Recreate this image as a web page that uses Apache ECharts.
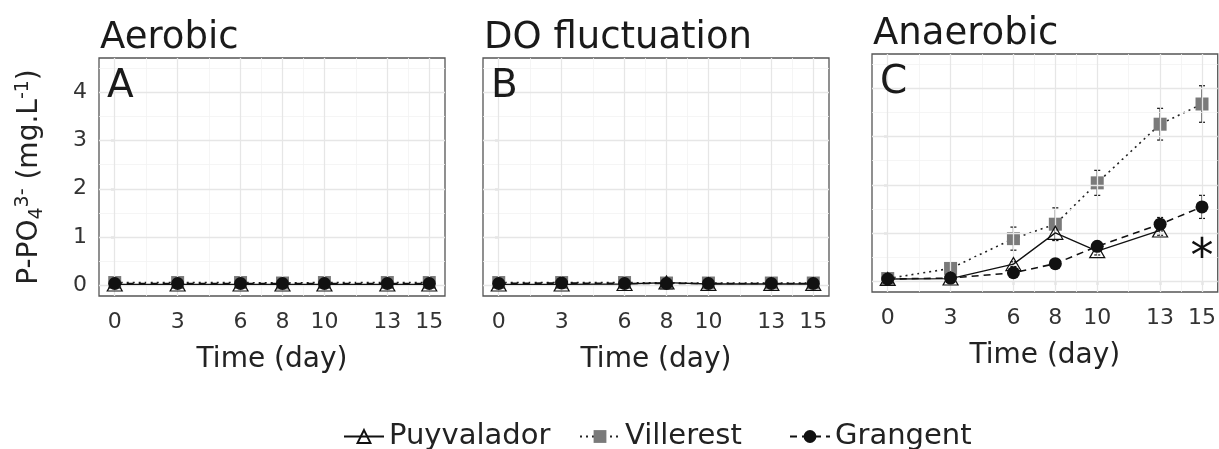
<!DOCTYPE html>
<html>
<head>
<meta charset="utf-8">
<script src="https://cdn.jsdelivr.net/npm/echarts@6/dist/echarts.min.js"></script>
<style>html,body{margin:0;padding:0;background:#fff}#c{width:1219px;height:449px}</style>
</head>
<body>
<div id="c"></div>
<script>
// ---- data ----
const days = [0, 3, 6, 8, 10, 13, 15];
const xTicks = [0, 3, 6, 8, 10, 13, 15];
const xMinor = [1.5, 4.5, 7, 9, 11.5, 14];
const yTicks = [0, 1, 2, 3, 4];
const yMinor = [0.5, 1.5, 2.5, 3.5, 4.5];
const panelTitles = ['Aerobic', 'DO fluctuation', 'Anaerobic'];
const panelLetters = ['A', 'B', 'C'];
const seriesNames = ['Puyvalador', 'Villerest', 'Grangent'];

// Aerobic
const puyA = [0.01, 0.01, 0.01, 0.01, 0.01, 0.01, 0.01];
const vilA = [0.05, 0.05, 0.05, 0.04, 0.05, 0.05, 0.05];
const graA = [0.03, 0.03, 0.03, 0.03, 0.03, 0.03, 0.03];
const puyAerr = [0.02, 0.02, 0.02, 0.02, 0.02, 0.02, 0.02];
const vilAerr = [0.03, 0.03, 0.03, 0.03, 0.03, 0.03, 0.03];
const graAerr = [0.02, 0.02, 0.02, 0.02, 0.02, 0.02, 0.02];
// DO fluctuation
const puyB = [0.01, 0.01, 0.02, 0.05, 0.02, 0.02, 0.02];
const vilB = [0.05, 0.05, 0.05, 0.04, 0.04, 0.04, 0.04];
const graB = [0.03, 0.04, 0.03, 0.03, 0.03, 0.03, 0.03];
const puyBerr = [0.02, 0.02, 0.02, 0.03, 0.02, 0.02, 0.02];
const vilBerr = [0.03, 0.03, 0.03, 0.03, 0.03, 0.03, 0.03];
const graBerr = [0.02, 0.02, 0.02, 0.02, 0.02, 0.02, 0.02];
// Anaerobic
const puyC = [0.04, 0.05, 0.35, 1.0, 0.62, 1.05, null];
const vilC = [0.05, 0.26, 0.88, 1.18, 2.04, 3.26, 3.68];
const graC = [0.04, 0.06, 0.17, 0.36, 0.72, 1.18, 1.54];
const puyCerr = [0.02, 0.02, 0.05, 0.15, 0.08, 0.1, null];
const vilCerr = [0.05, 0.06, 0.24, 0.34, 0.26, 0.33, 0.38];
const graCerr = [0.02, 0.02, 0.03, 0.04, 0.1, 0.14, 0.24];
const starDay = 15, starValue = 0.62;

const panels = [
  { puy: puyA, vil: vilA, gra: graA, puyE: puyAerr, vilE: vilAerr, graE: graAerr },
  { puy: puyB, vil: vilB, gra: graB, puyE: puyBerr, vilE: vilBerr, graE: graBerr },
  { puy: puyC, vil: vilC, gra: graC, puyE: puyCerr, vilE: vilCerr, graE: graCerr }
];

// ---- layout ----
const FONT = 'DejaVu Sans';
const gridBoxes = [
  { left: 99, top: 58, width: 346, height: 238 },
  { left: 483, top: 58, width: 346, height: 238 },
  { left: 872, top: 54, width: 346, height: 238 }
];
const legendLefts = [343, 579, 789];

const grids = [], xAxes = [], yAxes = [], series = [], titles = [];
const pairs = (vals) => days.map((d, i) => vals[i] == null ? [d, null] : [d, vals[i]]);
const errData = (vals, errs) => days.map((d, i) => vals[i] == null ? null : [d, vals[i] - errs[i], vals[i] + errs[i]]).filter(v => v);

const errRender = (params, api) => {
  const x = api.value(0);
  const lo = api.coord([x, api.value(1)]);
  const hi = api.coord([x, api.value(2)]);
  const cap = 3;
  return {
    type: 'group',
    children: [
      { type: 'line', shape: { x1: lo[0], y1: lo[1], x2: hi[0], y2: hi[1] }, style: { stroke: '#111', lineWidth: 1.2 } },
      { type: 'line', shape: { x1: lo[0] - cap, y1: lo[1], x2: lo[0] + cap, y2: lo[1] }, style: { stroke: '#111', lineWidth: 1.2 } },
      { type: 'line', shape: { x1: hi[0] - cap, y1: hi[1], x2: hi[0] + cap, y2: hi[1] }, style: { stroke: '#111', lineWidth: 1.2 } }
    ]
  };
};

gridBoxes.forEach((g, i) => {
  grids.push(Object.assign({ show: true, backgroundColor: '#fff', borderColor: '#555', borderWidth: 1.3 }, g));
  xAxes.push({
    type: 'value', gridIndex: i, min: -0.75, max: 15.75,
    axisLine: { show: false },
    axisTick: { show: true, length: 4, customValues: xTicks, lineStyle: { color: '#333', width: 1.2 } },
    axisLabel: { customValues: xTicks, fontFamily: FONT, fontSize: 22, color: '#333', margin: 15 },
    splitLine: { show: false },
    name: 'Time (day)', nameLocation: 'middle', nameGap: 50,
    nameTextStyle: { fontFamily: FONT, fontSize: 28, color: '#222' }
  });
  const y = {
    type: 'value', gridIndex: i, min: -0.23, max: 4.72,
    axisLine: { show: false },
    axisTick: { show: true, length: 4, customValues: yTicks, lineStyle: { color: '#333', width: 1.2 } },
    axisLabel: { show: i === 0, customValues: yTicks, fontFamily: FONT, fontSize: 22, color: '#333', margin: 12 },
    splitLine: { show: false }
  };
  if (i === 0) {
    y.name = '{n|P-PO}{sub|4}{sup|3-}{n| (mg.L}{sup|-1}{n|)}';
    y.nameLocation = 'middle';
    y.nameRotate = 90;
    y.nameGap = 51;
    y.nameTextStyle = {
      fontFamily: FONT, color: '#222',
      rich: {
        n: { fontFamily: FONT, fontSize: 28, color: '#222', lineHeight: 36 },
        sub: { fontFamily: FONT, fontSize: 19, color: '#222', padding: [14, 0, 0, 0], lineHeight: 36 },
        sup: { fontFamily: FONT, fontSize: 19, color: '#222', padding: [0, 0, 14, 0], lineHeight: 36 }
      }
    };
  }
  yAxes.push(y);

  // grid lines helper
  const mk = [];
  xMinor.forEach(v => mk.push({ xAxis: v, lineStyle: { color: '#f2f2f2', width: 0.8, type: 'solid' } }));
  yMinor.forEach(v => mk.push({ yAxis: v, lineStyle: { color: '#f2f2f2', width: 0.8, type: 'solid' } }));
  xTicks.forEach(v => mk.push({ xAxis: v, lineStyle: { color: '#e6e6e6', width: 1.3, type: 'solid' } }));
  yTicks.forEach(v => mk.push({ yAxis: v, lineStyle: { color: '#e6e6e6', width: 1.3, type: 'solid' } }));
  series.push({
    type: 'line', xAxisIndex: i, yAxisIndex: i, data: [], z: 1, silent: true,
    markLine: { silent: true, symbol: ['none', 'none'], label: { show: false }, animation: false, data: mk }
  });

  const p = panels[i];
  [[p.vil, p.vilE], [p.puy, p.puyE], [p.gra, p.graE]].forEach(([v, e]) => {
    series.push({ type: 'custom', xAxisIndex: i, yAxisIndex: i, z: 3, silent: true, renderItem: errRender, data: errData(v, e) });
  });
  series.push({
    name: 'Villerest', type: 'line', xAxisIndex: i, yAxisIndex: i, z: 4, data: pairs(p.vil),
    symbol: 'rect', symbolSize: 13, showAllSymbol: true,
    itemStyle: { color: '#7a7a7a', borderWidth: 0 },
    lineStyle: { color: '#222', width: 1.6, type: [2, 4] }
  });
  series.push({
    name: 'Puyvalador', type: 'line', xAxisIndex: i, yAxisIndex: i, z: 5, data: pairs(p.puy),
    symbol: 'triangle', symbolSize: [15, 13], showAllSymbol: true,
    itemStyle: { color: 'rgba(0,0,0,0)', borderColor: '#111', borderWidth: 1.2 },
    lineStyle: { color: '#111', width: 1.3, type: 'solid' }
  });
  const gs = {
    name: 'Grangent', type: 'line', xAxisIndex: i, yAxisIndex: i, z: 6, data: pairs(p.gra),
    symbol: 'circle', symbolSize: 13, showAllSymbol: true,
    itemStyle: { color: '#111', borderWidth: 0 },
    lineStyle: { color: '#111', width: 1.6, type: [7, 5] }
  };
  if (i === 2) {
    gs.markPoint = {
      silent: true, symbol: 'circle', symbolSize: 0, animation: false,
      data: [{ coord: [starDay, starValue] }],
      label: { show: true, formatter: '*', fontFamily: FONT, fontSize: 46, color: '#111', position: 'inside', offset: [0, 8] }
    };
  }
  series.push(gs);

  titles.push({ text: panelTitles[i], left: g.left + 1, top: g.top - 38, padding: 0, textStyle: { fontFamily: FONT, fontSize: 37, fontWeight: 'normal', color: '#1a1a1a' } });
  titles.push({ text: panelLetters[i], left: g.left + 8, top: g.top + 9, padding: 0, textStyle: { fontFamily: FONT, fontSize: 39, fontWeight: 'normal', color: '#1a1a1a' } });
});

const legends = seriesNames.map((n, k) => ({
  data: [n], left: legendLefts[k], top: 422, padding: 0, itemWidth: 40, itemHeight: 16,
  textStyle: { fontFamily: FONT, fontSize: 29, color: '#222' }
}));

const chart = echarts.init(document.getElementById('c'), null, { renderer: 'canvas' });
chart.setOption({
  animation: false,
  backgroundColor: '#fff',
  title: titles,
  grid: grids,
  xAxis: xAxes,
  yAxis: yAxes,
  legend: legends,
  series: series
});
</script>
</body>
</html>
